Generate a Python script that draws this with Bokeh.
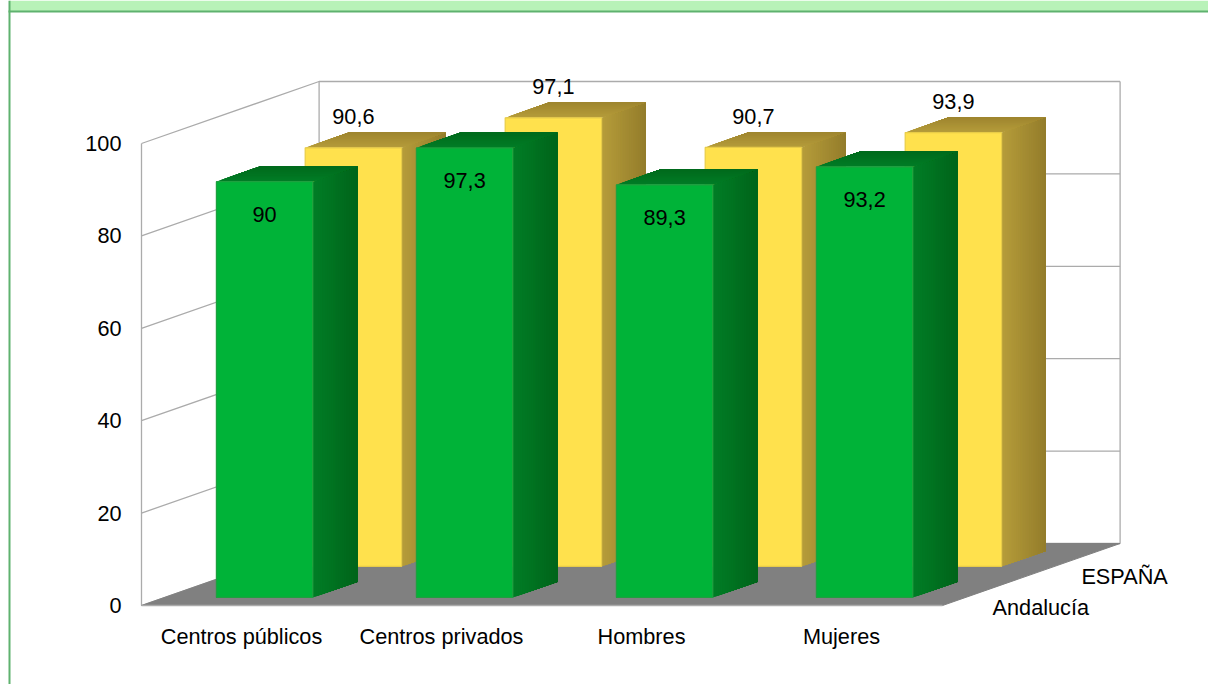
from bokeh.embed import file_html
from bokeh.models import ColumnDataSource, FixedTicker, LinearAxis, Range1d
from bokeh.plotting import figure
from bokeh.resources import INLINE
from bokeh.core.properties import value as fixed

categories = ["Centros públicos", "Centros privados", "Hombres", "Mujeres"]
series_names = ["ESPAÑA", "Andalucía"]
espana = [90.6, 97.1, 90.7, 93.9]
andalucia = [90, 97.3, 89.3, 93.2]
value_ticks = [0, 20, 40, 60, 80, 100]
value_text = {"espana": ["90,6", "97,1", "90,7", "93,9"],
              "andalucia": ["90", "97,3", "89,3", "93,2"]}

W, H = 1208, 684
PX_X, PX_Y = 200.0, 4.62          # pixels per category and per value unit
ORIGIN_X, ORIGIN_Y = 241.0, 605.0  # screen position of category 0, value 0
DEPTH_X, DEPTH_Y = 177.6 / PX_X, 62 / PX_Y  # oblique offset of the back wall
BOX_LO, BOX_HI = -0.5, 3.505       # extent of the box along the category axis
FONT = "Liberation Sans"
FONT_SIZE = "21.7px"

x_min = -ORIGIN_X / PX_X
x_max = (W - ORIGIN_X) / PX_X
y_max = ORIGIN_Y / PX_Y
y_min = -(H - ORIGIN_Y) / PX_Y

p = figure(width=W, height=H, x_range=Range1d(x_min, x_max), y_range=Range1d(y_min, y_max),
           x_axis_type=None, y_axis_type=None, toolbar_location=None, output_backend="svg",
           min_border=0, outline_line_color=None, background_fill_color="white",
           border_fill_color="white")
p.grid.visible = False


def project(cat, depth, val):
    """Oblique projection of (category position, depth 0-1, value) to data space."""
    return cat + depth * DEPTH_X, val + depth * DEPTH_Y


def hex_mix(a, b, t):
    ca = [int(a[i:i + 2], 16) for i in (1, 3, 5)]
    cb = [int(b[i:i + 2], 16) for i in (1, 3, 5)]
    return "#" + "".join(f"{round(u + (v - u) * t):02x}" for u, v in zip(ca, cb))


# Page banner and frame rule
RULE = "#5fb26f"
p.quad(left=[x_min + 9 / PX_X], right=[x_max], top=[y_max], bottom=[y_max - 10.5 / PX_Y],
       fill_color="#b8f2b8", line_color=None)
p.quad(left=[x_min + 8 / PX_X], right=[x_max], top=[y_max - 10 / PX_Y], bottom=[y_max - 12 / PX_Y],
       fill_color=RULE, line_color=None)
p.quad(left=[x_min + 8 / PX_X], right=[x_min + 10 / PX_X], top=[y_max], bottom=[y_min],
       fill_color=RULE, line_color=None)

# Walls: gridlines on the side wall and on the back wall
GRID = "#ababab"
for v in value_ticks:
    x0, y0 = project(BOX_LO, 0, v)
    x1, y1 = project(BOX_LO, 1, v)
    x2, y2 = project(BOX_HI, 1, v)
    p.line([x0, x1, x2], [y0, y1, y2], line_color=GRID, line_width=1.3)
for cat in (BOX_LO, BOX_HI):
    x0, y0 = project(cat, 1, 0)
    x1, y1 = project(cat, 1, 100)
    p.line([x0, x1], [y0, y1], line_color=GRID, line_width=1.3)

# Floor
corners = [project(BOX_LO, 0, 0), project(BOX_HI, 0, 0), project(BOX_HI, 1, 0), project(BOX_LO, 1, 0)]
p.patch([c[0] for c in corners], [c[1] for c in corners], fill_color="#808080", line_color="#808080",
        line_width=1)

BAR_W = 0.482
BAR_D = 0.25
STRIPS = 24


def draw_bars(values, depth0, front, edge, side_stops, top_stops):
    polys = {"x": [], "y": [], "c": []}

    def add(pts, c):
        polys["x"].append([q[0] for q in pts])
        polys["y"].append([q[1] for q in pts])
        polys["c"].append(c)

    for i, v in enumerate(values):
        xl, xr = i - BAR_W / 2, i + BAR_W / 2
        end = depth0 + BAR_D
        # Side face, shaded front to back: each layer runs to the far edge so no seams appear
        for s in range(STRIPS):
            a = depth0 + BAR_D * s / STRIPS
            col = hex_mix(side_stops[0], side_stops[1], s / (STRIPS - 1))
            add([project(xr, a, 0), project(xr, end, 0), project(xr, end, v), project(xr, a, v)], col)
        # Top face, shaded the same way
        for s in range(STRIPS):
            a = depth0 + BAR_D * s / STRIPS
            col = hex_mix(top_stops[0], top_stops[1], s / (STRIPS - 1))
            add([project(xl, a, v), project(xr, a, v), project(xr, end, v), project(xl, end, v)], col)
    src = ColumnDataSource(polys)
    p.patches("x", "y", source=src, fill_color="c", line_color=None)
    # Front faces
    fx = [i + depth0 * DEPTH_X for i in range(len(values))]
    base = depth0 * DEPTH_Y
    p.quad(left=[f - BAR_W / 2 for f in fx], right=[f + BAR_W / 2 for f in fx],
           bottom=[base] * len(values), top=[base + v for v in values],
           fill_color=front, line_color=edge, line_width=1.2)


DEPTH_ES, DEPTH_AN = 0.63, 0.13
draw_bars(espana, DEPTH_ES, "#ffe14d", "#e8cc48", ("#b59c3a", "#947d2b"), ("#b59c3a", "#9e852f"))
draw_bars(andalucia, DEPTH_AN, "#00b338", "#1ea03f", ("#007d26", "#00651a"), ("#007d26", "#006a1c"))

# Value labels: above the far series, inside the near one
p.text([i + DEPTH_ES * DEPTH_X for i in range(4)],
       [v + DEPTH_ES * DEPTH_Y + 31 / PX_Y for v in espana],
       text=value_text["espana"], text_align="center", text_baseline="middle",
       text_font=fixed(FONT), text_font_size=fixed(FONT_SIZE), text_color="black")
p.text([i + DEPTH_AN * DEPTH_X for i in range(4)],
       [v + DEPTH_AN * DEPTH_Y - 32.5 / PX_Y for v in andalucia],
       text=value_text["andalucia"], text_align="center", text_baseline="middle",
       text_font=fixed(FONT), text_font_size=fixed(FONT_SIZE), text_color="black")

# Series names along the floor's right edge
name_depths = [DEPTH_ES, DEPTH_AN]
p.text([project(BOX_HI, d, 0)[0] + 0.135 for d in name_depths],
       [project(BOX_HI, d, 0)[1] - 10.5 / PX_Y for d in name_depths],
       text=series_names, text_align="left", text_baseline="middle",
       text_font=fixed(FONT), text_font_size=fixed(FONT_SIZE), text_color="black")

# Axes pinned to the front corner of the box
yaxis = LinearAxis(fixed_location=BOX_LO, bounds=(0, 100), ticker=FixedTicker(ticks=value_ticks),
                   axis_line_color=GRID, axis_line_width=1.3,
                   major_tick_line_color=None, minor_tick_line_color=None,
                   major_label_standoff=14, major_label_text_font=FONT,
                   major_label_text_font_size=FONT_SIZE, major_label_text_color="black")
p.add_layout(yaxis, "left")
xaxis = LinearAxis(fixed_location=0, bounds=(BOX_LO, BOX_HI), ticker=FixedTicker(ticks=list(range(4))),
                   major_label_overrides={i: c for i, c in enumerate(categories)},
                   axis_line_color=GRID, axis_line_width=1.3,
                   major_tick_line_color=None, minor_tick_line_color=None,
                   major_label_standoff=12, major_label_text_font=FONT,
                   major_label_text_font_size=FONT_SIZE, major_label_text_color="black")
p.add_layout(xaxis, "below")

open("out.html", "w").write(file_html(p, INLINE))
